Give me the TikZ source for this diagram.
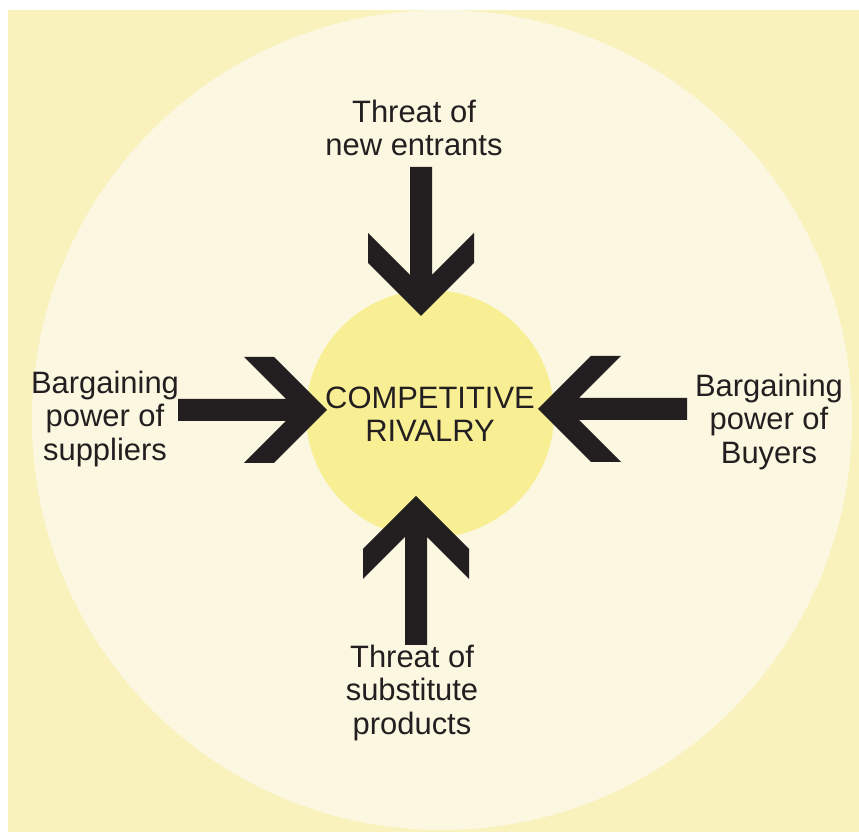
\documentclass[tikz,border=0pt]{standalone}
\usepackage{fontspec}
\setmainfont{Liberation Sans}
\usepackage{xcolor}

\definecolor{outeryellow}{HTML}{F9F2BD}
\definecolor{paleyellow}{HTML}{FCF7E0}
\definecolor{rivalyellow}{HTML}{F8EF94}
\definecolor{inkblack}{HTML}{231F20}

\tikzset{
  force/.style={fill=inkblack, draw=none},
  forcelabel/.style={font=\fontsize{17.6}{18.8}\selectfont, text=inkblack, align=center, inner sep=0pt},
}
% chevron arrow, tip at #1, pointing at angle #2
\newcommand{\forcearrow}[2]{%
  \fill[force, shift={(#1)}, rotate=#2]
    (0,0) -- (-1.06,1.06) -- (-1.66,1.06) -- (-0.82,0.22) -- (-2.98,0.22)
    -- (-2.98,-0.22) -- (-0.82,-0.22) -- (-1.66,-1.06) -- (-1.06,-1.06) -- cycle;}

\begin{document}
\begin{tikzpicture}
  \useasboundingbox (0,0) rectangle (17.18,16.64);
  \fill[outeryellow] (0.16,0) rectangle (17.18,16.44);
  \fill[paleyellow] (8.84,8.24) circle (8.2);
  \node[circle, fill=rivalyellow, minimum size=4.96cm, inner sep=0pt] (rivalry) at (8.6,8.36) {};

  % the four outer forces
  \node[forcelabel] (entrants) at (8.28,14.08) {Threat of\\new entrants};
  \node[forcelabel] (suppliers) at (2.1,8.26) {Bargaining\\power of\\suppliers};
  \node[forcelabel] (buyers) at (15.38,8.2) {Bargaining\\power of\\Buyers};
  \node[forcelabel] (substitutes) at (8.24,2.78) {Threat of\\substitute\\products};

  \coordinate (entrantsTip) at (8.42,10.32);
  \coordinate (suppliersTip) at (6.54,8.44);
  \coordinate (buyersTip) at (10.76,8.46);
  \coordinate (substitutesTip) at (8.32,6.72);

  \forcearrow{entrantsTip}{-90}
  \forcearrow{suppliersTip}{0}
  \forcearrow{buyersTip}{180}
  \forcearrow{substitutesTip}{90}

  \node[forcelabel] at (rivalry) {COMPETITIVE\\RIVALRY};
\end{tikzpicture}
\end{document}
